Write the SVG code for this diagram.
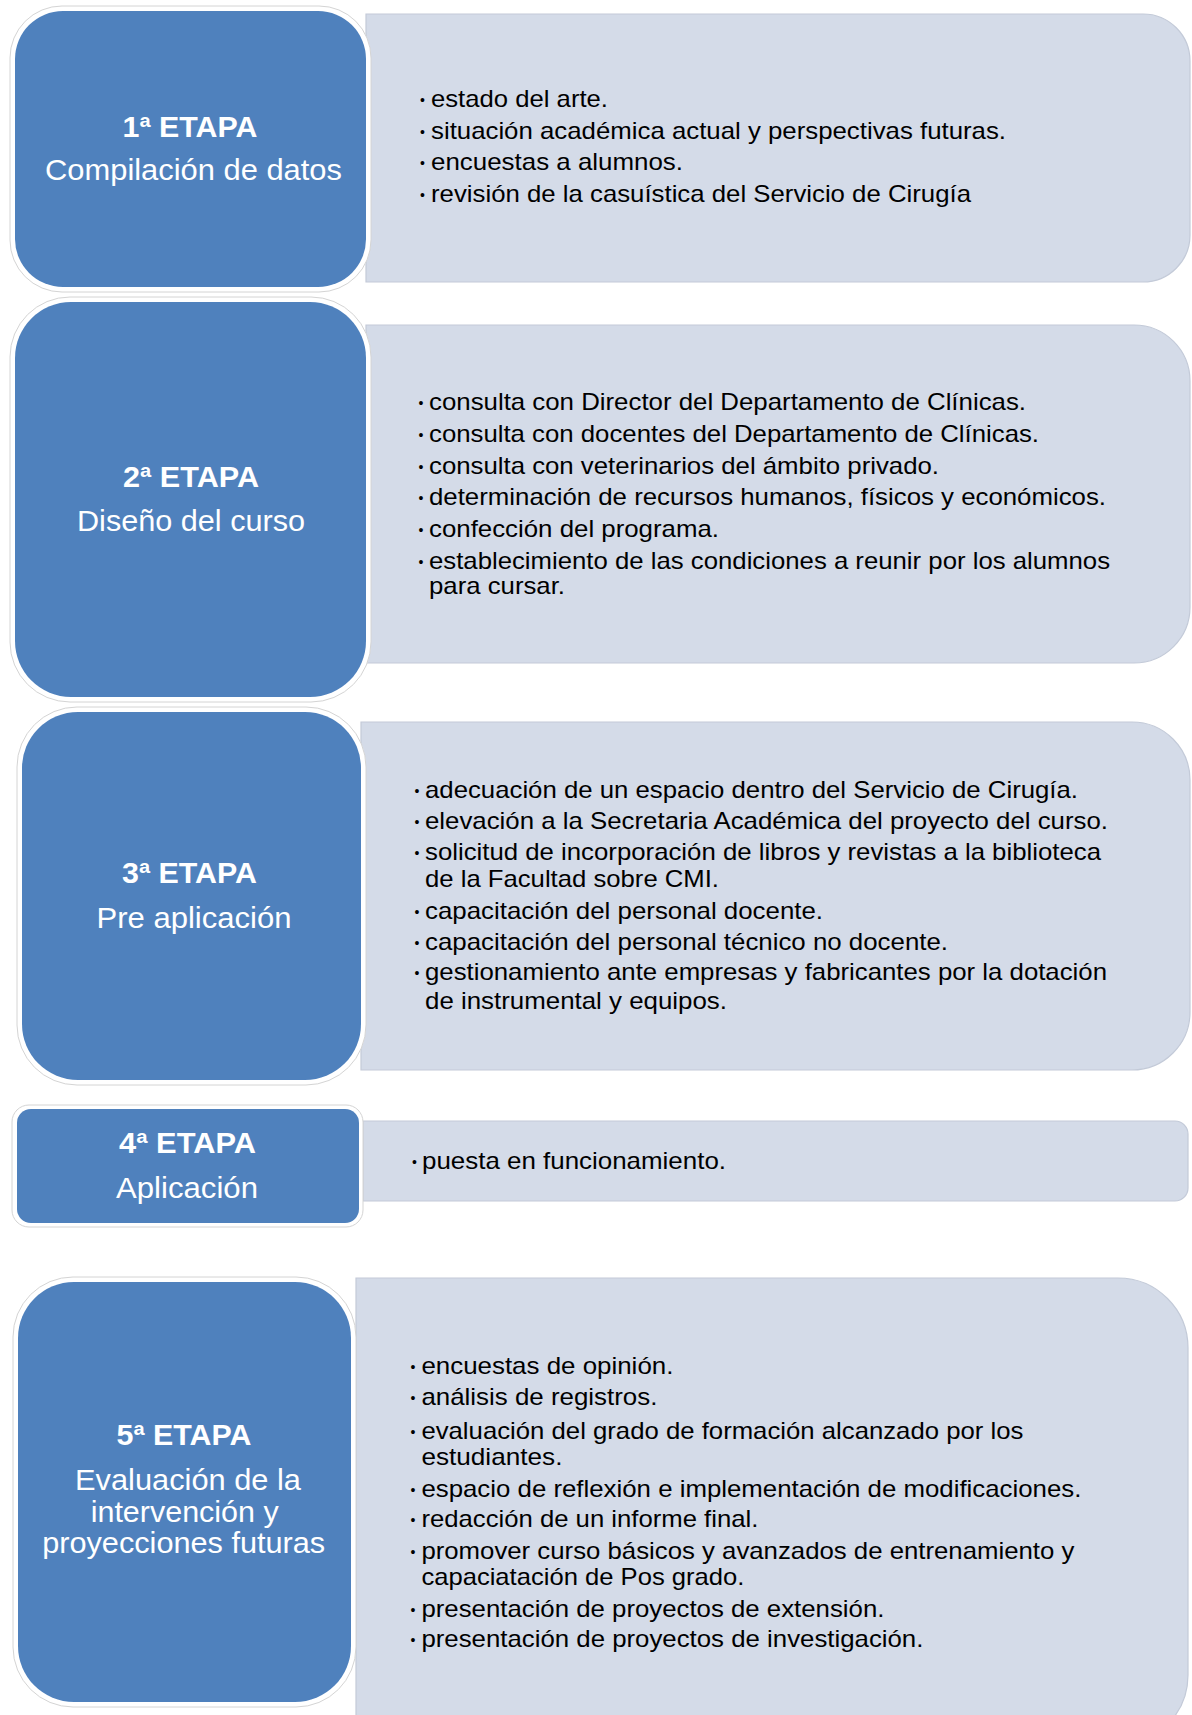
<svg xmlns="http://www.w3.org/2000/svg" width="1192" height="1715" viewBox="0 0 1192 1715">
<style>
.rim{fill:#ffffff;stroke:#d4d4d4;stroke-width:1}
.blue{fill:#4f81bd}
.light{fill:#d4dbe8;stroke:#c3cad8;stroke-width:1.2}
.ttl{font-family:"Liberation Sans",Arial,sans-serif;font-weight:bold;font-size:29px;fill:#ffffff;text-anchor:middle}
.sub{font-family:"Liberation Sans",Arial,sans-serif;font-size:30px;fill:#ffffff;text-anchor:middle}
.txt{font-family:"Liberation Sans",Arial,sans-serif;font-size:24px;fill:#000000}
.bul{font-family:"Liberation Sans",Arial,sans-serif;font-size:14px;fill:#000000;text-anchor:middle}
</style>
<rect width="1192" height="1715" fill="#ffffff"/>
<g id="connectors"/>

<g id="stage1">
  <g id="stage1-detail">
    <path class="light" d="M366,14 H1143 A47,47 0 0 1 1190,61 V235 A47,47 0 0 1 1143,282 H366 Z"/>
    <text class="bul" x="422.5" y="105">•</text><text class="txt" x="431" y="107" textLength="177" lengthAdjust="spacingAndGlyphs">estado del arte.</text>
    <text class="bul" x="422.5" y="137">•</text><text class="txt" x="431" y="139" textLength="575" lengthAdjust="spacingAndGlyphs">situación académica actual y perspectivas futuras.</text>
    <text class="bul" x="422.5" y="168">•</text><text class="txt" x="431" y="170" textLength="252" lengthAdjust="spacingAndGlyphs">encuestas a alumnos.</text>
    <text class="bul" x="422.5" y="200">•</text><text class="txt" x="431" y="202" textLength="540" lengthAdjust="spacingAndGlyphs">revisión de la casuística del Servicio de Cirugía</text>
  </g>
  <g id="stage1-title">
    <rect class="rim" x="10" y="6" width="361" height="286" rx="52"/>
    <rect class="blue" x="15" y="11" width="351" height="276" rx="48"/>
    <text class="ttl" x="190" y="137" textLength="135" lengthAdjust="spacingAndGlyphs">1ª ETAPA</text>
    <text class="sub" x="193.5" y="180" textLength="297" lengthAdjust="spacingAndGlyphs">Compilación de datos</text>
  </g>
</g>

<g id="stage2">
  <g id="stage2-detail">
    <path class="light" d="M366,325 H1134 A56,56 0 0 1 1190,381 V607 A56,56 0 0 1 1134,663 H366 Z"/>
    <text class="bul" x="421" y="408">•</text><text class="txt" x="429" y="410" textLength="597" lengthAdjust="spacingAndGlyphs">consulta con Director del Departamento de Clínicas.</text>
    <text class="bul" x="421" y="440">•</text><text class="txt" x="429" y="442" textLength="610" lengthAdjust="spacingAndGlyphs">consulta con docentes del Departamento de Clínicas.</text>
    <text class="bul" x="421" y="472">•</text><text class="txt" x="429" y="474" textLength="510" lengthAdjust="spacingAndGlyphs">consulta con veterinarios del ámbito privado.</text>
    <text class="bul" x="421" y="503">•</text><text class="txt" x="429" y="505" textLength="677" lengthAdjust="spacingAndGlyphs">determinación de recursos humanos, físicos y económicos.</text>
    <text class="bul" x="421" y="535">•</text><text class="txt" x="429" y="537" textLength="290" lengthAdjust="spacingAndGlyphs">confección del programa.</text>
    <text class="bul" x="421" y="567">•</text><text class="txt" x="429" y="569" textLength="681" lengthAdjust="spacingAndGlyphs">establecimiento de las condiciones a reunir por los alumnos</text>
    <text class="txt" x="429" y="594" textLength="136" lengthAdjust="spacingAndGlyphs">para cursar.</text>
  </g>
  <g id="stage2-title">
    <rect class="rim" x="10" y="297" width="361" height="405" rx="60"/>
    <rect class="blue" x="15" y="302" width="351" height="395" rx="56"/>
    <text class="ttl" x="191" y="487" textLength="136" lengthAdjust="spacingAndGlyphs">2ª ETAPA</text>
    <text class="sub" x="191" y="531" textLength="228" lengthAdjust="spacingAndGlyphs">Diseño del curso</text>
  </g>
</g>

<g id="stage3">
  <g id="stage3-detail">
    <path class="light" d="M361,722 H1132 A58,58 0 0 1 1190,780 V1012 A58,58 0 0 1 1132,1070 H361 Z"/>
    <text class="bul" x="417" y="796">•</text><text class="txt" x="425" y="798" textLength="653" lengthAdjust="spacingAndGlyphs">adecuación de un espacio dentro del Servicio de Cirugía.</text>
    <text class="bul" x="417" y="827">•</text><text class="txt" x="425" y="829" textLength="683" lengthAdjust="spacingAndGlyphs">elevación a la Secretaria Académica del proyecto del curso.</text>
    <text class="bul" x="417" y="858">•</text><text class="txt" x="425" y="860" textLength="676" lengthAdjust="spacingAndGlyphs">solicitud de incorporación de libros y revistas a la biblioteca</text>
    <text class="txt" x="425" y="887" textLength="294" lengthAdjust="spacingAndGlyphs">de la Facultad sobre CMI.</text>
    <text class="bul" x="417" y="917">•</text><text class="txt" x="425" y="919" textLength="398" lengthAdjust="spacingAndGlyphs">capacitación del personal docente.</text>
    <text class="bul" x="417" y="948">•</text><text class="txt" x="425" y="950" textLength="523" lengthAdjust="spacingAndGlyphs">capacitación del personal técnico no docente.</text>
    <text class="bul" x="417" y="978">•</text><text class="txt" x="425" y="980" textLength="682" lengthAdjust="spacingAndGlyphs">gestionamiento ante empresas y fabricantes por la dotación</text>
    <text class="txt" x="425" y="1009" textLength="302" lengthAdjust="spacingAndGlyphs">de instrumental y equipos.</text>
  </g>
  <g id="stage3-title">
    <rect class="rim" x="17" y="707" width="349" height="378" rx="60"/>
    <rect class="blue" x="22" y="712" width="339" height="368" rx="56"/>
    <text class="ttl" x="189.5" y="883" textLength="135" lengthAdjust="spacingAndGlyphs">3ª ETAPA</text>
    <text class="sub" x="194" y="928" textLength="195" lengthAdjust="spacingAndGlyphs">Pre aplicación</text>
  </g>
</g>

<g id="stage4">
  <g id="stage4-detail">
    <path class="light" d="M363,1121 H1175 A13,13 0 0 1 1188,1134 V1188 A13,13 0 0 1 1175,1201 H363 Z"/>
    <text class="bul" x="414.5" y="1167">•</text><text class="txt" x="422" y="1169" textLength="304" lengthAdjust="spacingAndGlyphs">puesta en funcionamiento.</text>
  </g>
  <g id="stage4-title">
    <rect class="rim" x="12" y="1105" width="351" height="122" rx="17"/>
    <rect class="blue" x="17" y="1109" width="342" height="114" rx="14"/>
    <text class="ttl" x="187.5" y="1153" textLength="137" lengthAdjust="spacingAndGlyphs">4ª ETAPA</text>
    <text class="sub" x="187" y="1198" textLength="142" lengthAdjust="spacingAndGlyphs">Aplicación</text>
  </g>
</g>

<g id="stage5">
  <g id="stage5-detail">
    <path class="light" d="M356,1278 H1118 A70,70 0 0 1 1188,1348 V1675 A70,70 0 0 1 1118,1745 H356 Z"/>
    <text class="bul" x="413" y="1372">•</text><text class="txt" x="421.4" y="1374" textLength="252" lengthAdjust="spacingAndGlyphs">encuestas de opinión.</text>
    <text class="bul" x="413" y="1403">•</text><text class="txt" x="421.4" y="1405" textLength="236" lengthAdjust="spacingAndGlyphs">análisis de registros.</text>
    <text class="bul" x="413" y="1437">•</text><text class="txt" x="421.4" y="1439" textLength="602" lengthAdjust="spacingAndGlyphs">evaluación del grado de formación alcanzado por los</text>
    <text class="txt" x="421.4" y="1465" textLength="141" lengthAdjust="spacingAndGlyphs">estudiantes.</text>
    <text class="bul" x="413" y="1495">•</text><text class="txt" x="421.4" y="1497" textLength="660" lengthAdjust="spacingAndGlyphs">espacio de reflexión e implementación de modificaciones.</text>
    <text class="bul" x="413" y="1525">•</text><text class="txt" x="421.4" y="1527" textLength="337" lengthAdjust="spacingAndGlyphs">redacción de un informe final.</text>
    <text class="bul" x="413" y="1557">•</text><text class="txt" x="421.4" y="1559" textLength="653" lengthAdjust="spacingAndGlyphs">promover curso básicos y avanzados de entrenamiento y</text>
    <text class="txt" x="421.4" y="1585" textLength="323" lengthAdjust="spacingAndGlyphs">capaciatación de Pos grado.</text>
    <text class="bul" x="413" y="1615">•</text><text class="txt" x="421.4" y="1617" textLength="463" lengthAdjust="spacingAndGlyphs">presentación de proyectos de extensión.</text>
    <text class="bul" x="413" y="1645">•</text><text class="txt" x="421.4" y="1647" textLength="502" lengthAdjust="spacingAndGlyphs">presentación de proyectos de investigación.</text>
  </g>
  <g id="stage5-title">
    <rect class="rim" x="13" y="1277" width="343" height="430" rx="60"/>
    <rect class="blue" x="18" y="1282" width="333" height="420" rx="56"/>
    <text class="ttl" x="184" y="1445" textLength="135" lengthAdjust="spacingAndGlyphs">5ª ETAPA</text>
    <text class="sub" x="188" y="1490" textLength="226" lengthAdjust="spacingAndGlyphs">Evaluación de la</text>
    <text class="sub" x="184.7" y="1522" textLength="188" lengthAdjust="spacingAndGlyphs">intervención y</text>
    <text class="sub" x="183.7" y="1553" textLength="283" lengthAdjust="spacingAndGlyphs">proyecciones futuras</text>
  </g>
</g>
</svg>
